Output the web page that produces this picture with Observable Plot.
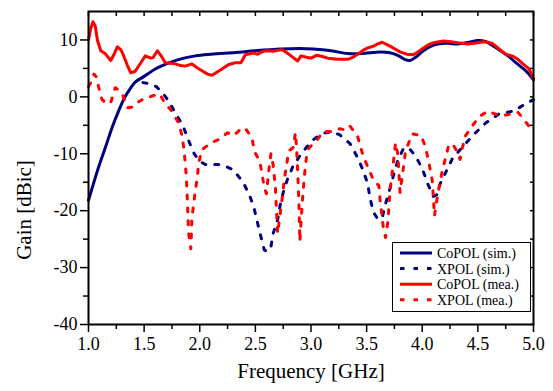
<!DOCTYPE html>
<html>
<head>
<meta charset="utf-8">
<script src="https://cdn.jsdelivr.net/npm/d3@7"></script>
<script src="https://cdn.jsdelivr.net/npm/@observablehq/plot@0.6"></script>
<style>
  html, body { margin: 0; padding: 0; background: #fff; font-family: "Liberation Serif", "Times New Roman", Times, serif; }
  #wrap { position: relative; width: 553px; height: 391px; }
  #wrap svg, #wrap svg text { font-family: "Liberation Serif", "Times New Roman", Times, serif !important; }
  #legend { position: absolute; left: 392px; top: 242px; }
</style>
</head>
<body>
<div id="wrap"></div>
<script>
// ---- data ----
const fCoSim = [1.0,1.08,1.15,1.21,1.27,1.32,1.36,1.42,1.5,1.6,1.7,1.8,1.96,2.1,2.32,2.5,2.73,2.9,3.02,3.18,3.33,3.45,3.62,3.7,3.78,3.84,3.89,3.95,4.01,4.08,4.14,4.23,4.32,4.42,4.5,4.56,4.61,4.68,4.77,4.83,4.88,4.94,5.0];
const gCoSim = [-18.2,-13,-9,-5.5,-2.5,-0.3,1.0,2.6,3.6,4.9,5.8,6.5,7.2,7.5,7.8,8.1,8.4,8.5,8.4,8.1,7.6,7.6,7.9,7.8,7.3,6.6,6.4,7.1,8.1,8.9,9.3,9.4,9.3,9.6,9.9,9.8,9.3,8.4,7.2,6.2,5.4,4.4,3.0];

const fXSim = [1.49,1.55,1.61,1.67,1.72,1.78,1.85,1.9,1.95,2.0,2.05,2.17,2.23,2.3,2.39,2.45,2.49,2.52,2.55,2.58,2.61,2.64,2.66,2.7,2.72,2.75,2.79,2.84,2.92,3.01,3.07,3.13,3.2,3.26,3.35,3.42,3.47,3.51,3.53,3.56,3.6,3.64,3.67,3.71,3.74,3.78,3.83,3.88,3.94,4.0,4.05,4.1,4.13,4.16,4.27,4.37,4.48,4.57,4.69,4.82,4.94,5.0];
const gXSim = [2.5,2.3,1.8,0.6,-0.7,-2.8,-5.1,-7.7,-10,-11.3,-11.9,-11.9,-12.2,-12.8,-15,-17.4,-19.7,-22.2,-24.6,-26.9,-27.2,-26.3,-24,-21.6,-19.3,-16.8,-14.4,-12.1,-9.8,-7.7,-6.8,-6.3,-6.2,-6.7,-8.2,-10.7,-13,-15.3,-17.7,-20.2,-21.5,-21.2,-18.8,-16.1,-13.9,-11.2,-9.1,-9.0,-10.4,-12.6,-15.3,-17.5,-17.2,-15.3,-10.9,-8.6,-6.3,-4.6,-3.0,-2.5,-1.1,-0.5];

const fCoMea = [1.0,1.02,1.04,1.06,1.08,1.11,1.15,1.2,1.23,1.26,1.29,1.31,1.35,1.38,1.42,1.47,1.51,1.56,1.58,1.62,1.65,1.69,1.78,1.83,1.87,1.93,1.97,2.02,2.07,2.11,2.15,2.2,2.26,2.32,2.37,2.41,2.48,2.52,2.57,2.61,2.66,2.74,2.78,2.82,2.88,2.91,2.95,3.0,3.05,3.1,3.15,3.24,3.33,3.38,3.42,3.47,3.51,3.56,3.6,3.64,3.7,3.74,3.8,3.86,3.92,3.97,4.01,4.06,4.1,4.19,4.26,4.32,4.41,4.5,4.55,4.59,4.63,4.66,4.71,4.75,4.82,4.86,4.9,4.96,5.0];
const gCoMea = [10,12,13.2,12.5,10,8.1,7.6,6.4,7.5,8.8,8.3,7.5,5.5,4.2,4.5,6.0,7.2,6.8,6.9,8.1,7.3,6.0,5.8,5.5,5.4,5.8,5.2,4.6,4.0,3.8,4.3,4.9,5.7,6.0,6.0,7.4,7.7,7.5,8.0,8.1,8.0,8.3,7.8,7.2,6.3,7.2,7.0,6.8,7.3,7.1,6.8,6.6,6.6,7.0,7.5,8.2,8.6,8.9,9.3,9.6,9.0,8.6,7.9,7.5,7.4,8.0,8.6,9.2,9.5,9.8,9.7,9.5,9.3,9.5,9.7,9.6,9.4,8.9,8.1,7.5,7.1,6.6,5.9,4.9,3.2];

const fXMea = [1.0,1.02,1.05,1.07,1.09,1.12,1.16,1.2,1.24,1.27,1.31,1.35,1.4,1.44,1.49,1.53,1.58,1.64,1.69,1.75,1.81,1.84,1.86,1.88,1.89,1.9,1.92,1.93,1.96,1.98,1.99,2.02,2.1,2.17,2.25,2.3,2.34,2.38,2.42,2.47,2.49,2.54,2.56,2.58,2.6,2.62,2.64,2.66,2.68,2.69,2.7,2.72,2.74,2.76,2.78,2.8,2.84,2.86,2.87,2.88,2.89,2.9,2.92,2.94,2.96,2.98,3.05,3.11,3.18,3.26,3.31,3.35,3.42,3.47,3.52,3.56,3.61,3.62,3.65,3.67,3.69,3.7,3.71,3.73,3.76,3.78,3.8,3.82,3.85,3.91,3.99,4.03,4.06,4.09,4.1,4.11,4.14,4.18,4.21,4.24,4.28,4.31,4.34,4.36,4.39,4.45,4.51,4.59,4.68,4.75,4.86,4.93,5.0];
const gXMea = [1.8,2.5,4.0,3.5,1.8,-0.4,-1.2,-1.0,1.6,1.2,0.2,-1.9,-1.8,-1.0,-0.4,-0.2,0.2,0.5,-1.2,-2.5,-4.6,-6.8,-9.5,-14.2,-18.8,-24,-26.7,-21.2,-16.5,-13.9,-11.6,-9.3,-8.1,-7.5,-6.3,-6.8,-6.2,-5.4,-5.8,-7.2,-9.5,-11.4,-13.5,-16,-17,-13,-10,-12,-16,-20,-24,-21,-18,-14.5,-12,-9.5,-8.9,-6.3,-8.9,-13,-18,-25.4,-19,-14,-10.5,-9,-7.7,-6.1,-6.1,-5.6,-5.8,-5.1,-7,-10.5,-12.7,-14.6,-15.6,-17.9,-23,-24.7,-22.1,-19.5,-16.5,-13.3,-8.1,-10,-16.8,-14,-9.5,-6.5,-6.8,-8.9,-11.6,-14.7,-17.7,-20.9,-17,-13,-10.7,-8.3,-8.5,-9.5,-11,-9,-6.8,-5.1,-3.5,-2.5,-3.2,-3.2,-2.7,-4.4,-6.3];

const xTicks = [1.0,1.5,2.0,2.5,3.0,3.5,4.0,4.5,5.0];
const xMinor = [1.25,1.75,2.25,2.75,3.25,3.75,4.25,4.75];
const yTicks = [-40,-30,-20,-10,0,10];
const yMinor = [-35,-25,-15,-5,5];
const seriesNames = ["CoPOL (sim.)","XPOL (sim.)","CoPOL (mea.)","XPOL (mea.)"];
const seriesColors = ["#000080","#000080","#ff0000","#ff0000"];
const seriesDash = [null,"4,9",null,"4,9"];

const toRows = (f, g) => f.map((x, i) => ({f: x, g: g[i]}));
const series = [toRows(fCoSim,gCoSim), toRows(fXSim,gXSim), toRows(fCoMea,gCoMea), toRows(fXMea,gXMea)];
const lineMarks = series.map((d, i) => Plot.line(d, {
  x: "f", y: "g", stroke: seriesColors[i], strokeWidth: 3,
  strokeDasharray: seriesDash[i] || undefined,
  curve: i === 0 ? "catmull-rom" : "linear",
  strokeLinejoin: "round"
}));

const FONT = "\"Liberation Serif\", \"Times New Roman\", Times, serif";

const chart = Plot.plot({
  width: 553, height: 391,
  marginLeft: 88, marginRight: 20, marginTop: 11, marginBottom: 67,
  style: {fontFamily: FONT, background: "#fff", color: "#000", overflow: "visible"},
  x: {domain: [1, 5]},
  y: {domain: [-40, 15]},
  marks: [
    ...lineMarks,
    Plot.axisX({ticks: xTicks, tickSize: 8, tickPadding: 5, tickFormat: d3.format(".1f"), fontSize: 18, label: null, strokeWidth: 1.5}),
    Plot.axisX({ticks: xMinor, tickSize: 5, tickFormat: () => "", label: null, strokeWidth: 1.5}),
    Plot.axisX({anchor: "top", ticks: xTicks.concat(xMinor), tickSize: -4, tickFormat: () => "", label: null, strokeWidth: 1.5}),
    Plot.axisY({ticks: yTicks, tickSize: 8, tickPadding: 3, tickFormat: d => String(d), fontSize: 18, label: null, strokeWidth: 1.5}),
    Plot.axisY({ticks: yMinor, tickSize: 5, tickFormat: () => "", label: null, strokeWidth: 1.5}),
    Plot.axisY({anchor: "right", ticks: yTicks.concat(yMinor), tickSize: -4, tickFormat: () => "", label: null, strokeWidth: 1.5}),
    Plot.frame({stroke: "#000", strokeWidth: 2}),
    Plot.text(["Frequency [GHz]"], {frameAnchor: "bottom", dy: 53, fontSize: 21, fill: "#000"}),
    Plot.text(["Gain [dBic]"], {frameAnchor: "left", textAnchor: "middle", rotate: -90, dx: -64, dy: 42, fontSize: 21, fill: "#000"})
  ]
});
document.getElementById("wrap").appendChild(chart);

// legend overlay
const lg = d3.select("#wrap").append("svg").attr("id", "legend")
  .attr("width", 140).attr("height", 71)
  .style("font-family", FONT);
lg.append("rect").attr("x", 0.5).attr("y", 0.5).attr("width", 138).attr("height", 69)
  .attr("fill", "#fff").attr("stroke", "#000").attr("stroke-width", 1);
seriesNames.forEach((name, i) => {
  const y = 11 + i * 15.6;
  lg.append("line").attr("x1", 8).attr("x2", 40).attr("y1", y).attr("y2", y)
    .attr("stroke", seriesColors[i]).attr("stroke-width", 3)
    .attr("stroke-dasharray", seriesDash[i] ? "4.5,9" : null);
  lg.append("text").attr("x", 45).attr("y", y).attr("dy", "0.35em")
    .attr("font-size", 14).attr("fill", "#000").text(name);
});
</script>
</body>
</html>
